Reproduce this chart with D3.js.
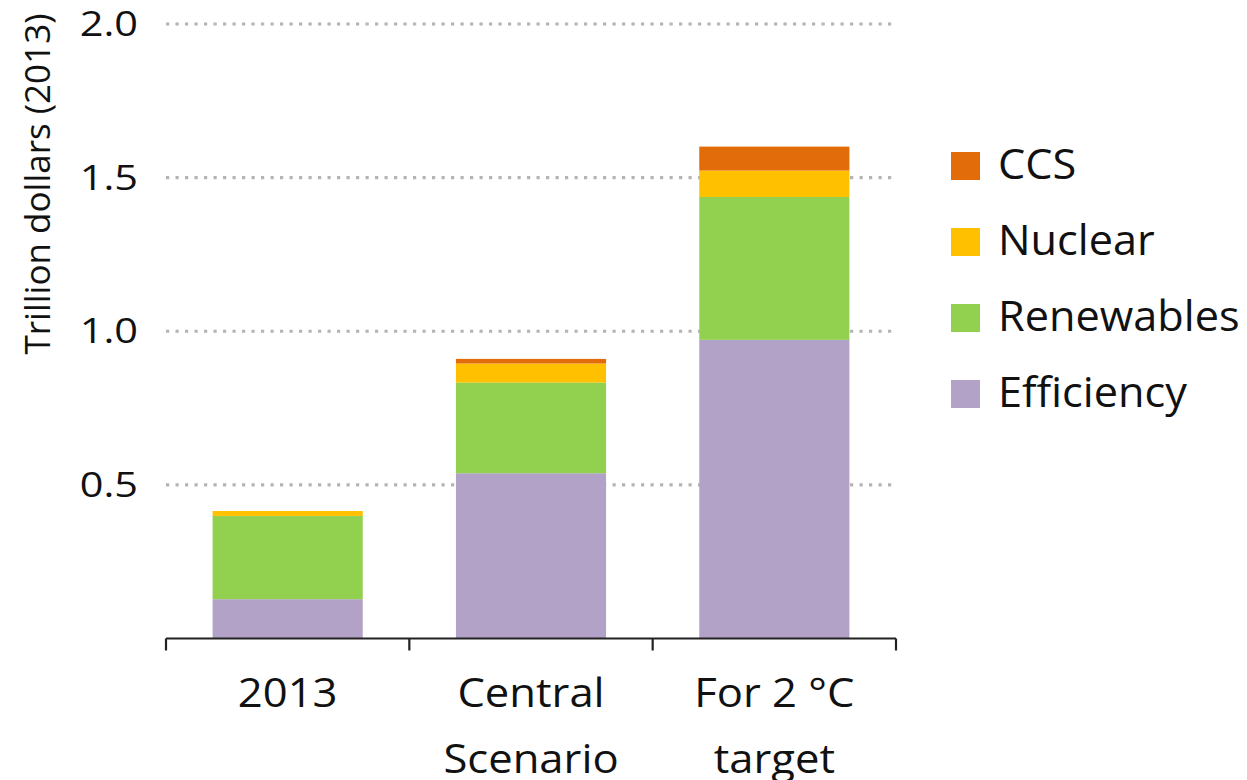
<!DOCTYPE html>
<html><head><meta charset="utf-8">
<script src="https://cdn.jsdelivr.net/npm/d3@7"></script>
<style>body{margin:0;background:#fff}svg{display:block}text{font-family:"Open Sans",Lato,sans-serif;fill:#111}</style>
</head><body>
<svg id="c" width="1247" height="780"></svg>
<script>
const categories = [["2013"], ["Central", "Scenario"], ["For 2 °C", "target"]];
const seriesNames = ["Efficiency", "Renewables", "Nuclear", "CCS"];
const efficiency = [0.128, 0.538, 0.972];
const renewables = [0.271, 0.295, 0.465];
const nuclear = [0.016, 0.062, 0.086];
const ccs = [0.0, 0.015, 0.078];
const colors = ["#B3A2C7", "#92D050", "#FFC000", "#E36C0A"];
const yTicks = [0.5, 1.0, 1.5, 2.0];
const yLabel = "Trillion dollars (2013)";

const svg = d3.select("#c");
const keys = categories.map(c => c.join(" "));
const rows = keys.map((k, i) => ({key: k, Efficiency: efficiency[i], Renewables: renewables[i], Nuclear: nuclear[i], CCS: ccs[i]}));
const stack = d3.stack().keys(seriesNames)(rows);

const x = d3.scaleBand().domain(keys).range([166, 896]).paddingInner(0.383).paddingOuter(0.1915);
const y = d3.scaleLinear().domain([0, 2]).range([638.5, 24]);
const color = d3.scaleOrdinal().domain(seriesNames).range(colors);

// gridlines
svg.append("g").selectAll("line").data(yTicks).join("line")
  .attr("x1", 166).attr("x2", 896)
  .attr("y1", d => y(d)).attr("y2", d => y(d))
  .attr("stroke", "#b4b4b4").attr("stroke-width", 3.2)
  .attr("stroke-dasharray", "3.2 6.3");

// bars
svg.append("g").selectAll("g").data(stack).join("g")
  .attr("fill", d => color(d.key))
  .selectAll("rect").data(d => d).join("rect")
  .attr("x", d => x(d.data.key))
  .attr("width", x.bandwidth())
  .attr("y", d => y(d[1]))
  .attr("height", d => Math.max(0, y(d[0]) - y(d[1])));

// x axis
const xAxis = svg.append("g").attr("transform", `translate(0,${y(0)})`);
xAxis.append("line").attr("x1", 166).attr("x2", 896).attr("stroke", "#222").attr("stroke-width", 2.2);
const bounds = [166].concat(keys.map(k => x(k) + x.bandwidth() + x.step() * x.paddingInner() / 2));
bounds[bounds.length - 1] = 896;
xAxis.selectAll("line.tk").data(bounds).join("line").attr("class", "tk")
  .attr("x1", d => d).attr("x2", d => d).attr("y1", 0).attr("y2", 12)
  .attr("stroke", "#222").attr("stroke-width", 2.2);
const xl = xAxis.selectAll("g.lbl").data(categories).join("g").attr("class", "lbl")
  .attr("transform", (d, i) => `translate(${x(keys[i]) + x.bandwidth() / 2},0) scale(1.09,1)`);
xl.each(function(d) {
  d3.select(this).selectAll("text").data(d).join("text")
    .attr("text-anchor", "middle").attr("font-size", 40)
    .attr("y", (t, j) => 68.5 + j * 66)
    .text(t => t);
});

// y tick labels
svg.append("g").selectAll("text").data(yTicks).join("text")
  .attr("transform", d => `translate(138,${y(d)}) scale(1.22,1)`)
  .attr("dy", "0.36em")
  .attr("text-anchor", "end").attr("font-size", 34)
  .text(d => d.toFixed(1));

// y label
svg.append("text").attr("transform", "translate(50,184) rotate(-90) scale(1.03,1)")
  .attr("text-anchor", "middle").attr("font-size", 34).text(yLabel);

// legend
const legendOrder = seriesNames.slice().reverse();
const lg = svg.append("g").selectAll("g").data(legendOrder).join("g")
  .attr("transform", (d, i) => `translate(951,${152 + i * 76})`);
lg.append("rect").attr("width", 29).attr("height", 28).attr("fill", d => color(d));
lg.append("text").attr("transform", "translate(47,26.5) scale(1.03,1)")
  .attr("font-size", 42).text(d => d);
</script>
</body></html>
